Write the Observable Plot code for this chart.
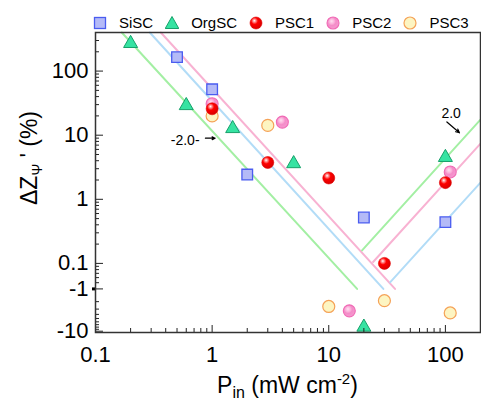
<!DOCTYPE html>
<html><head><meta charset="utf-8">
<script src="https://cdn.jsdelivr.net/npm/d3@7"></script>
<script src="https://cdn.jsdelivr.net/npm/@observablehq/plot@0.6"></script>
<style>
html,body{margin:0;padding:0;background:#fff;}
body{font-family:Arial,"Liberation Sans",sans-serif;color:#000;}
#wrap{width:481px;height:404px;overflow:hidden;}
#legend{height:31px;box-sizing:border-box;padding-top:14px;padding-left:93px;display:flex;align-items:center;font-size:15px;line-height:16px;}
#legend .sym{width:14px;height:16px;display:block;}
#legend .lab{margin-left:12px;margin-right:12px;}
</style></head>
<body><div id="wrap"><div id="legend"></div><div id="chart"></div></div>
<script>
// ---- data ----
const seriesNames = ["SiSC", "OrgSC", "PSC1", "PSC2", "PSC3"];
const sisc_x  = [0.5, 1, 2, 20, 100];
const sisc_y  = [165, 52, 2.43, 0.52, 0.44];
const orgsc_x = [0.2, 0.6, 1.5, 5, 100, 20];
const orgsc_y = [270, 29, 12.7, 3.6, 4.5, -8];
const psc1_x  = [1, 3, 10, 30, 100];
const psc1_y  = [25.8, 3.75, 2.15, 0.1, 1.82];
const psc2_x  = [1, 4, 110, 15];
const psc2_y  = [31, 16, 2.67, -3.3];
const psc3_x  = [1, 3, 10, 30, 110];
const psc3_y  = [20, 14.2, -2.6, -1.9, -3.7];

// fitted slopes (-2 and +2 arms), endpoints in data units
const fitGreenL_x = [0.168, 17.5], fitGreenL_y = [400, 0.04];
const fitBlueL_x  = [0.292, 29.4], fitBlueL_y  = [400, 0.04];
const fitPinkL_x  = [0.363, 37],   fitPinkL_y  = [400, 0.04];
const fitGreenR_x = [19.3, 200],   fitGreenR_y = [0.16, 17.5];
const fitPinkR_x  = [24, 200],     fitPinkR_y  = [0.105, 7.4];
const fitBlueR_x  = [33.7, 200],   fitBlueR_y  = [0.051, 1.82];

// annotations
const annoText = ["-2.0-", "2.0"];
const annoX = [0.587, 112];
const annoY = [8.35, 22];
const arrowX1 = [0.876, 103], arrowY1 = [8.97, 16.1];
const arrowX2 = [1.06, 132],  arrowY2 = [8.97, 10.9];

// ticks
const xMajor = [0.1, 1, 10, 100];
const xMajorLabels = ["0.1", "1", "10", "100"];
const xMinor = [0.2,0.3,0.4,0.5,0.6,0.7,0.8,0.9, 2,3,4,5,6,7,8,9, 20,30,40,50,60,70,80,90, 200];
const yMajor = [100, 10, 1, 0.1, -1, -10];
const yMajorLabels = ["100", "10", "1", "0.1", "-1", "-10"];
const yMinor = [0.05,0.06,0.07,0.08,0.09, 0.2,0.3,0.4,0.5,0.6,0.7,0.8,0.9, 2,3,4,5,6,7,8,9,
                20,30,40,50,60,70,80,90, 200,300,400, -2,-3,-4,-5,-6,-7,-8,-9];

// ---- broken y axis: positive log part above, negative log part below ----
const BREAK_T = Math.log10(0.04);
const NEG_K = 0.66;
const T = v => v > 0 ? Math.log10(v) : BREAK_T - Math.log10(-v) * NEG_K;

const rows = (xs, ys) => xs.map((x, i) => ({x, y: ys[i]}));
const yLab = t => { const i = yMajor.findIndex(v => Math.abs(T(v) - t) < 1e-9); return i < 0 ? "" : yMajorLabels[i]; };
const xLab = v => { const i = xMajor.findIndex(u => Math.abs(u - v) < 1e-12); return i < 0 ? "" : xMajorLabels[i]; };

const cGreen = "#a3efa3", cBlue = "#b2dcf7", cPink = "#f8b2d2";
const lineOpts = c => ({x: "x", y: d => T(d.y), stroke: c, strokeWidth: 2});
const dotY = d => T(d.y);

const chart = Plot.plot({
  width: 481, height: 373,
  marginLeft: 95, marginRight: 1, marginTop: 1, marginBottom: 72,
  style: {fontFamily: 'Arial, "Liberation Sans", sans-serif', color: "#000", background: "#fff"},
  x: {type: "log", domain: [0.1, 200]},
  y: {type: "linear", domain: [T(-10) - 0.02, Math.log10(400)]},
  marks: [
    Plot.line(rows(fitGreenL_x, fitGreenL_y), lineOpts(cGreen)),
    Plot.line(rows(fitBlueL_x, fitBlueL_y), lineOpts(cBlue)),
    Plot.line(rows(fitPinkL_x, fitPinkL_y), lineOpts(cPink)),
    Plot.line(rows(fitGreenR_x, fitGreenR_y), lineOpts(cGreen)),
    Plot.line(rows(fitPinkR_x, fitPinkR_y), lineOpts(cPink)),
    Plot.line(rows(fitBlueR_x, fitBlueR_y), lineOpts(cBlue)),
    Plot.dot(rows(sisc_x, sisc_y), {x: "x", y: dotY, symbol: "square", r: 6, fill: "#b4baf7", stroke: "#4a5cf0", strokeWidth: 1.3}),
    Plot.dot(rows(orgsc_x, orgsc_y), {x: "x", y: dotY, symbol: "triangle", r: 5.2, fill: "#36e3a2", stroke: "#17a06a", strokeWidth: 1}),
    Plot.dot(rows(psc3_x, psc3_y), {x: "x", y: dotY, r: 6, fill: "#fdf5c2", stroke: "#f5a257", strokeWidth: 1.2}),
    Plot.dot(rows(psc2_x, psc2_y), {x: "x", y: dotY, r: 6, fill: "url(#gPink)", stroke: "#f06ab5", strokeWidth: 1.1}),
    Plot.dot(rows(psc1_x, psc1_y), {x: "x", y: dotY, r: 6, fill: "url(#gRed)", stroke: "#e00000", strokeWidth: 0.6}),
    Plot.text(annoText.map((t, i) => ({t, x: annoX[i], y: annoY[i]})), {x: "x", y: d => T(d.y), text: "t", fontSize: 14, fill: "#000"}),
    Plot.arrow(arrowX1.map((x1, i) => ({x1, y1: arrowY1[i], x2: arrowX2[i], y2: arrowY2[i]})),
      {x1: "x1", y1: d => T(d.y1), x2: "x2", y2: d => T(d.y2), stroke: "#000", strokeWidth: 1.2, headLength: 5, headAngle: 50}),
    // axes
    Plot.axisX(xMajor, {anchor: "bottom", tickSize: 0, tickPadding: 14, tickFormat: xLab, fontSize: 22, label: null}),
    Plot.axisX(xMajor, {anchor: "bottom", tickSize: -7, text: null, label: null, stroke: "#222"}),
    Plot.axisX(xMinor, {anchor: "bottom", tickSize: -4, text: null, label: null, stroke: "#222"}),
    Plot.axisY(yMajor.map(T), {anchor: "left", tickSize: 0, tickPadding: 7, tickFormat: yLab, fontSize: 22, label: null}),
    Plot.axisY(yMajor.map(T), {anchor: "left", tickSize: -8, text: null, label: null, stroke: "#222"}),
    Plot.axisY(yMinor.map(T), {anchor: "left", tickSize: -4, text: null, label: null, stroke: "#222"}),
    Plot.axisY([T(-1)], {anchor: "left", tickSize: 3, strokeWidth: 3, text: null, label: null, stroke: "#000"}),
    Plot.frame({stroke: "#333", strokeWidth: 1.5})
  ]
});

const NS = "http://www.w3.org/2000/svg";
const defs = document.createElementNS(NS, "defs");
defs.innerHTML =
  '<radialGradient id="gRed" cx="0.4" cy="0.36" r="0.68" fx="0.36" fy="0.3">' +
  '<stop offset="0" stop-color="#ffffff"/><stop offset="0.16" stop-color="#ff9a9a"/>' +
  '<stop offset="0.42" stop-color="#ff0000"/><stop offset="1" stop-color="#d40000"/></radialGradient>' +
  '<radialGradient id="gPink" cx="0.42" cy="0.4" r="0.62" fx="0.38" fy="0.34">' +
  '<stop offset="0" stop-color="#ffe0f1"/><stop offset="0.35" stop-color="#fbb0da"/>' +
  '<stop offset="0.55" stop-color="#f48cc8"/><stop offset="1" stop-color="#f59bd0"/></radialGradient>';
chart.prepend(defs);

// axis titles with sub/superscripts
const W = 481, H = 373, mL = 95, mR = 1;
const xt = document.createElementNS(NS, "text");
xt.setAttribute("x", (mL + W - mR) / 2);
xt.setAttribute("y", 362);
xt.setAttribute("text-anchor", "middle");
xt.setAttribute("font-size", 23);
xt.setAttribute("fill", "#000");
xt.innerHTML = 'P<tspan font-size="16" dy="5">in</tspan><tspan dy="-5"> (mW cm</tspan><tspan font-size="15" dy="-9">-2</tspan><tspan dy="9">)</tspan>';
chart.appendChild(xt);

const yt = document.createElementNS(NS, "text");
yt.setAttribute("transform", "translate(37,127) rotate(-90)");
yt.setAttribute("text-anchor", "middle");
yt.setAttribute("font-size", 23);
yt.setAttribute("fill", "#000");
yt.innerHTML = 'ΔZ<tspan font-size="14" dy="5">Ψ</tspan><tspan dy="-5"> \' (%)</tspan>';
chart.appendChild(yt);

document.getElementById("chart").appendChild(chart);

// legend
const symbols = [
  '<rect x="1.5" y="2.5" width="11" height="11" fill="#b4baf7" stroke="#4a5cf0" stroke-width="1.3"/>',
  '<path d="M7,1.5 L13.8,13.5 L0.2,13.5 Z" fill="#36e3a2" stroke="#17a06a" stroke-width="1"/>',
  '<circle cx="7" cy="8" r="6" fill="url(#gRed)" stroke="#e00000" stroke-width="0.6"/>',
  '<circle cx="7" cy="8" r="6" fill="url(#gPink)" stroke="#f06ab5" stroke-width="1.1"/>',
  '<circle cx="7" cy="8" r="6" fill="#fdf5c2" stroke="#f5a257" stroke-width="1.2"/>'
];
const leg = document.getElementById("legend");
seriesNames.forEach((name, i) => {
  const s = document.createElementNS(NS, "svg");
  s.setAttribute("class", "sym");
  s.setAttribute("width", 14); s.setAttribute("height", 16);
  s.innerHTML = symbols[i];
  leg.appendChild(s);
  const t = document.createElement("span");
  t.className = "lab";
  t.textContent = name;
  leg.appendChild(t);
});
</script></body></html>
